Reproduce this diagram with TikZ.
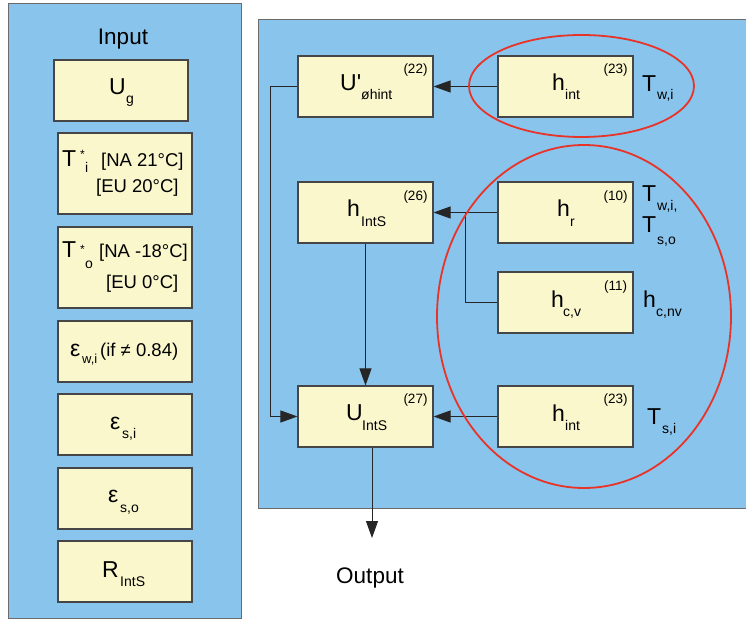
\documentclass[tikz,border=0pt]{standalone}
\usepackage{fontspec}
\setmainfont{Liberation Sans}
\newfontfamily\plainsans[Ligatures=TeXOff]{Liberation Sans}
\usetikzlibrary{arrows.meta}
\definecolor{panelblue}{RGB}{137,196,236}
\definecolor{boxcream}{RGB}{250,247,205}
\definecolor{boxedge}{RGB}{70,70,70}
\definecolor{ringred}{RGB}{232,52,40}
\begin{document}
\begin{tikzpicture}[x=1pt,y=-1pt,
 panel/.style={fill=panelblue,draw=boxedge!80,line width=0.9pt,inner sep=0pt},
 box/.style={fill=boxcream,draw=boxedge,line width=1.1pt,inner sep=0pt},
 rbox/.style={box,minimum width=135pt,minimum height=61pt},
 lbox/.style={box,minimum width=134pt},
 ring/.style={draw=ringred,line width=1.8pt},
 conn/.style={draw=black!85,line width=0.9pt},
 arr/.style={conn,-{Triangle[length=17pt,width=12pt]}},
 big/.style={font=\fontsize{23}{23}\selectfont,inner sep=0pt,anchor=base west},
 sub/.style={font=\fontsize{14}{14}\selectfont,inner sep=0pt,anchor=base west},
 star/.style={font=\fontsize{12}{12}\selectfont,inner sep=0pt,anchor=base west},
 eqno/.style={font=\fontsize{13.5}{13.5}\selectfont,inner sep=0pt},
 mid/.style={font=\fontsize{18.5}{18.5}\selectfont,inner sep=0pt,anchor=base west},
 title/.style={font=\fontsize{22.5}{22.5}\selectfont,inner sep=0pt,anchor=base},
]
\useasboundingbox (0,0) rectangle (746,620);
\clip (0,0) rectangle (746,620);
% panels
\node[panel,minimum width=233pt,minimum height=615pt] (inpanel) at (124.5,310.5) {};
\node[panel,minimum width=498pt,minimum height=489pt] (calcpanel) at (507,263.5) {};
\node[title] (inputlbl) at (123,45) {Input};
% left boxes
\node[lbox,minimum height=61pt] (ug) at (121,90.5) {};
\node[lbox,minimum height=81pt] (ti) at (125,173.5) {};
\node[lbox,minimum height=81pt] (to) at (125,267.5) {};
\node[lbox,minimum height=61pt] (ewi) at (125,351.5) {};
\node[lbox,minimum height=61pt] (esi) at (125,424.5) {};
\node[lbox,minimum height=61pt] (eso) at (125,498.5) {};
\node[lbox,minimum height=61pt] (rints) at (125,571.5) {};
% left texts
\node[big] (ugU) at (109,95) {U};
\node[sub] (ugg) at (126,103.5) {g};
\node[big] (tiT) at (62,167) {T};
\node[star] (tis) at (80,158.5) {*};
\node[sub] (tii) at (85,173) {i};
\node[mid] (tina) at (101,167) {[NA 21°C]};
\node[mid] (tieu) at (96,193) {[EU 20°C]};
\node[big] (toT) at (62,258) {T};
\node[star] (tos) at (80,253.5) {*};
\node[sub] (too) at (85,268) {o};
\node[mid] (tona) at (99,258) {[NA -18°C]};
\node[mid] (toeu) at (106,288) {[EU 0°C]};
\node[big] (ewiE) at (70,356) {ε};
\node[sub,font=\fontsize{13}{13}\selectfont] (ewis) at (82,363) {w,i};
\node[mid] (ewit) at (100,356) {(if ≠ 0.84)};
\node[big] (esiE) at (110,429) {ε};
\node[sub] (esis) at (122,438) {s,i};
\node[big] (esoE) at (108,502) {ε};
\node[sub] (esos) at (120,512) {s,o};
\node[big] (rR) at (102,577) {R};
\node[sub] (rs) at (120,586) {IntS};
% right boxes
\node[rbox] (uprime) at (365.5,86.5) {};
\node[rbox] (hinta) at (565.5,86.5) {};
\node[rbox] (hints) at (365.5,212.5) {};
\node[rbox] (hr) at (565.5,212.5) {};
\node[rbox] (hcv) at (565.5,302.5) {};
\node[rbox] (uints) at (365.5,416.5) {};
\node[rbox] (hintb) at (565.5,416.5) {};
% right texts
\node[big] (upU) at (340,91) {U{\plainsans'}};
\node[sub] (ups) at (361,100) {øhint};
\node[eqno] (upn) at (415.5,70) {(22)};
\node[big] (haH) at (552,91) {h};
\node[sub] (has) at (565,100) {int};
\node[eqno] (han) at (615.5,70) {(23)};
\node[big] (twiT) at (642,92) {T};
\node[sub] (twis) at (657,100) {w,i};
\node[big] (hsH) at (347,217) {h};
\node[sub] (hss) at (361,227) {IntS};
\node[eqno] (hsn) at (415.5,197) {(26)};
\node[big] (hrH) at (557,217) {h};
\node[sub] (hrs) at (570,227) {r};
\node[eqno] (hrn) at (615.5,197) {(10)};
\node[big] (twbT) at (642,202) {T};
\node[sub] (twbs) at (657,211) {w,i,};
\node[big] (tsoT) at (642,233) {T};
\node[sub] (tsos) at (657,244) {s,o};
\node[big] (hcH) at (551,307) {h};
\node[sub] (hcs) at (563,316) {c,v};
\node[eqno] (hcn) at (615.5,287) {(11)};
\node[big] (hnH) at (643,307) {h};
\node[sub] (hns) at (656,316) {c,nv};
\node[big] (uiU) at (346,420) {U};
\node[sub] (uis) at (362,430) {IntS};
\node[eqno] (uin) at (415.5,400) {(27)};
\node[big] (hbH) at (552,421) {h};
\node[sub] (hbs) at (565,430) {int};
\node[eqno] (hbn) at (615.5,400) {(23)};
\node[big] (tsiT) at (647,424) {T};
\node[sub] (tsis) at (662,433) {s,i};
\node[title] (outlbl) at (370,583) {Output};
% connectors
\coordinate (lbus) at (270,86.5);
\coordinate (jn) at (465,212.5);
\coordinate (outtip) at (372,538);
\draw[arr] (hinta.west) -- (uprime.east);
\draw[arr] (uprime.west) -- (lbus) |- (uints.west);
\draw[arr] (hr.west) -- (hints.east);
\draw[conn] (hcv.west) -| (jn);
\draw[arr] (hints.south) -- (uints.north);
\draw[arr] (hintb.west) -- (uints.east);
\draw[arr] (uints.south -| outtip) -- (outtip);
% rings
\draw[ring] (581.5,86) ellipse [x radius=112.5pt, y radius=51pt];
\draw[ring] (584,316.5) ellipse [x radius=147pt, y radius=171.5pt];
\end{tikzpicture}
\end{document}
